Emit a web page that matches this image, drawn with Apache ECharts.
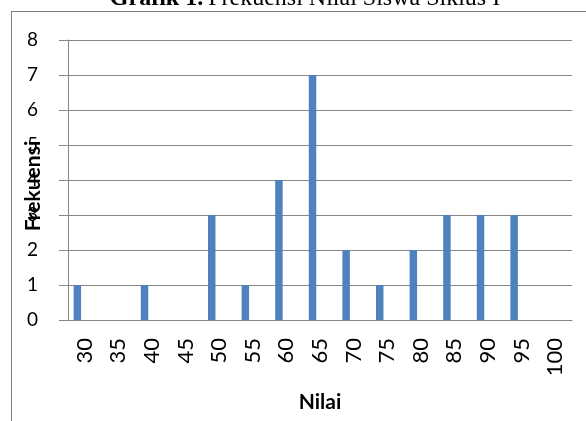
<!DOCTYPE html>
<html>
<head>
<meta charset="utf-8">
<script src="https://cdn.jsdelivr.net/npm/echarts@6/dist/echarts.min.js"></script>
<style>
html,body{margin:0;padding:0;background:#fff;overflow:hidden;}
#wrap{position:relative;width:586px;height:421px;overflow:hidden;}
#c{position:absolute;left:0;top:0;width:586px;height:421px;}
#frame{position:absolute;left:11px;top:11px;width:700px;height:600px;border:1px solid #7f7f7f;pointer-events:none;}
</style>
</head>
<body>
<div id="wrap"><div id="c"></div><div id="frame"></div></div>
<script>
var categories = ['30','35','40','45','50','55','60','65','70','75','80','85','90','95','100'];
var frekuensi = [1,0,1,0,3,1,4,7,2,1,2,3,3,3,0];
var seriesKosong2 = ['-','-','-','-','-','-','-','-','-','-','-','-','-','-','-'];
var seriesKosong3 = ['-','-','-','-','-','-','-','-','-','-','-','-','-','-','-'];
var yTicks = {min:0, max:8, interval:1};

var chart = echarts.init(document.getElementById('c'), null, {renderer:'canvas'});
var grey = '#868686';
chart.setOption({
  animation:false,
  backgroundColor:'#fff',
  title:{
    text:'{b|Grafik 1.} {n|Frekuensi Nilai Siswa Siklus I}',
    left:300, textAlign:'center', top:-18,
    textStyle:{fontWeight:'normal', rich:{
      b:{fontFamily:'Liberation Serif', fontWeight:'bold', fontSize:24, color:'#000'},
      n:{fontFamily:'Liberation Serif', fontWeight:'normal', fontSize:24, color:'#000'}
    }}
  },
  grid:{left:68, right:14, top:40, bottom:101, containLabel:false, outerBoundsMode:'none'},
  xAxis:{
    type:'category', data:categories,
    name:'Nilai', nameLocation:'middle', nameGap:72, nameMoveOverlap:false,
    nameTextStyle:{fontFamily:'Lato', fontWeight:'bold', fontSize:21, color:'#000'},
    axisLine:{lineStyle:{color:grey}},
    axisTick:{length:8, lineStyle:{color:grey}},
    axisLabel:{rotate:90, margin:18, fontFamily:'Lato', fontSize:22, color:'#000'}
  },
  yAxis:{
    type:'value', min:yTicks.min, max:yTicks.max, interval:yTicks.interval,
    name:'Frekuensi', nameLocation:'middle', nameGap:24, nameRotate:90, nameMoveOverlap:false,
    nameTextStyle:{fontFamily:'Lato', fontWeight:'bold', fontSize:21, color:'#000', padding:[0,12,0,0]},
    axisLine:{show:true, lineStyle:{color:grey}},
    axisTick:{show:true, length:9, lineStyle:{color:grey}},
    splitLine:{lineStyle:{color:grey}},
    axisLabel:{margin:30, fontFamily:'Lato', fontSize:19, color:'#000'}
  },
  series:[
    {type:'bar', data:frekuensi, barGap:'0%', barCategoryGap:'33.3%', itemStyle:{color:'#4F81BD'}},
    {type:'bar', data:seriesKosong2, itemStyle:{color:'#C0504D'}},
    {type:'bar', data:seriesKosong3, itemStyle:{color:'#9BBB59'}}
  ]
});
</script>
</body>
</html>
